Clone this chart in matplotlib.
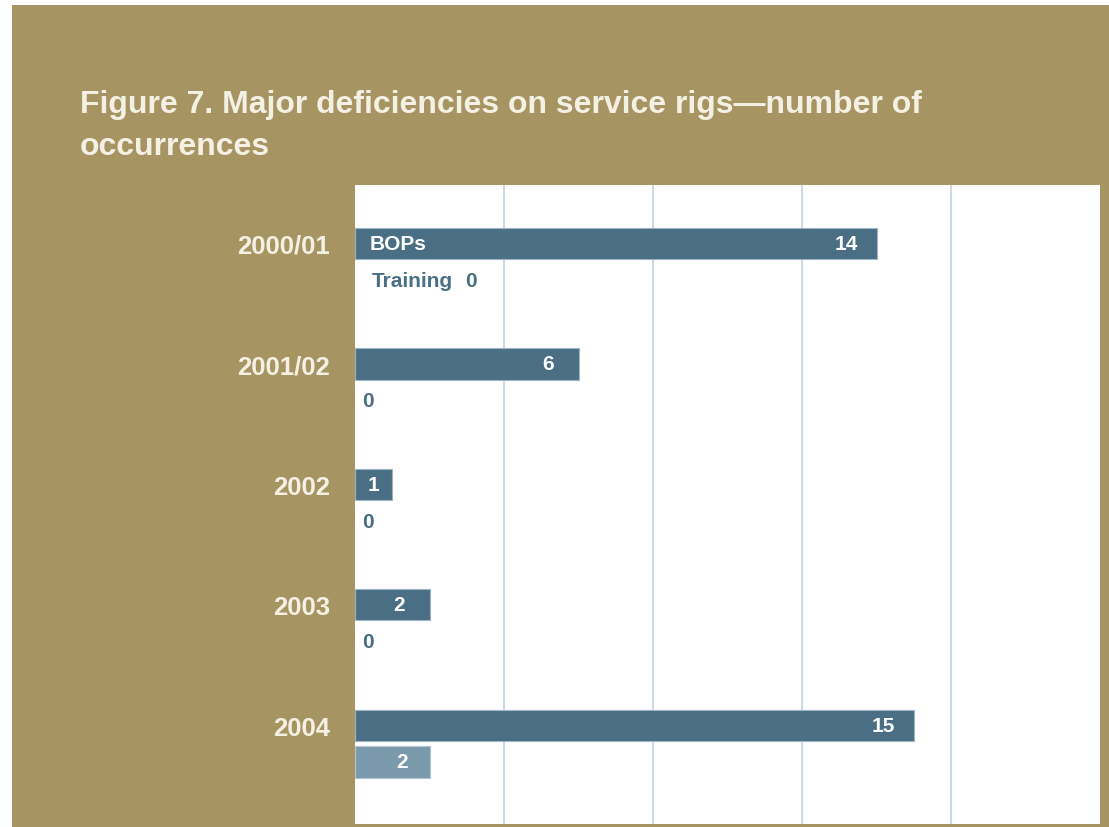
import matplotlib.pyplot as plt
from matplotlib.patches import Rectangle
import numpy as np

# occurrences per year
years = ['2000/01', '2001/02', '2002', '2003', '2004']
bops = [14, 6, 1, 2, 15]
training = [0, 0, 0, 0, 2]

khaki = '#a69462'
dark_blue = '#4a6f85'
light_blue = '#7a99aa'
cream = '#f4f0e4'
grid_col = '#c3d2de'

bold = ['Liberation Sans', 'DejaVu Sans']

fig = plt.figure(figsize=(11.09, 8.28), dpi=100)
fig.patch.set_facecolor('white')
fig.patches.append(Rectangle((12 / 1109, 0), 1 - 12 / 1109, 1 - 6 / 828,
                             transform=fig.transFigure, facecolor=khaki,
                             edgecolor='none', zorder=-10))

title_lines = ['Figure 7. Major deficiencies on service rigs\u2014number of', 'occurrences']
for k, line in enumerate(title_lines):
    fig.text(80 / 1109, 1 - (113 + 42 * k) / 828, line, family=bold, fontweight='bold',
             fontsize=23, color=cream, ha='left', va='baseline')

ax = fig.add_axes([355 / 1109, 3 / 828, 745 / 1109, 639 / 828])
ax.set_facecolor('white')

y = np.arange(len(years))
h = 0.26
off = 0.305
ax.barh(y, bops, height=h, color=dark_blue, edgecolor='#9fb3c2', linewidth=0.8, zorder=3)
tr = ax.barh(y + off, training, height=h, color=light_blue, edgecolor='#b4c5d1',
             linewidth=0.8, zorder=3)
for bar, t in zip(tr, training):
    if t == 0:
        bar.set_linewidth(0)

ax.set_xlim(0, 20)
ax.set_ylim(len(years) - 1 + 0.82, -0.485)
ax.set_xticks([4, 8, 12, 16])
ax.xaxis.grid(True, color=grid_col, linewidth=1.2, zorder=1)
ax.tick_params(axis='x', length=0, labelbottom=False)
for s in ax.spines.values():
    s.set_visible(False)

ax.set_yticks(y)
ax.set_yticklabels(years, family=bold, fontweight='heavy', fontsize=18.5, color=cream)
ax.tick_params(axis='y', length=0, pad=18)

lab = dict(family=bold, fontweight='bold', fontsize=15, va='center', zorder=4)

def inside_x(v):
    return v - 0.82 if v >= 2 else v - 0.5

for i, v in enumerate(bops):
    ax.text(inside_x(v), i, str(v), color='white', ha='center', **lab)
    t = training[i]
    if t > 0:
        ax.text(inside_x(t) + 0.08, i + off, str(t), color='white', ha='center', **lab)
    elif i == 0:
        ax.text(0.45, i + off, 'Training', color=dark_blue, ha='left', **lab)
        ax.text(2.95, i + off, '0', color=dark_blue, ha='left', **lab)
    else:
        ax.text(0.18, i + off, '0', color=dark_blue, ha='left', **lab)

ax.text(0.4, 0, 'BOPs', color='white', ha='left', **lab)

fig.savefig('out.png', dpi=100, facecolor=fig.get_facecolor())
